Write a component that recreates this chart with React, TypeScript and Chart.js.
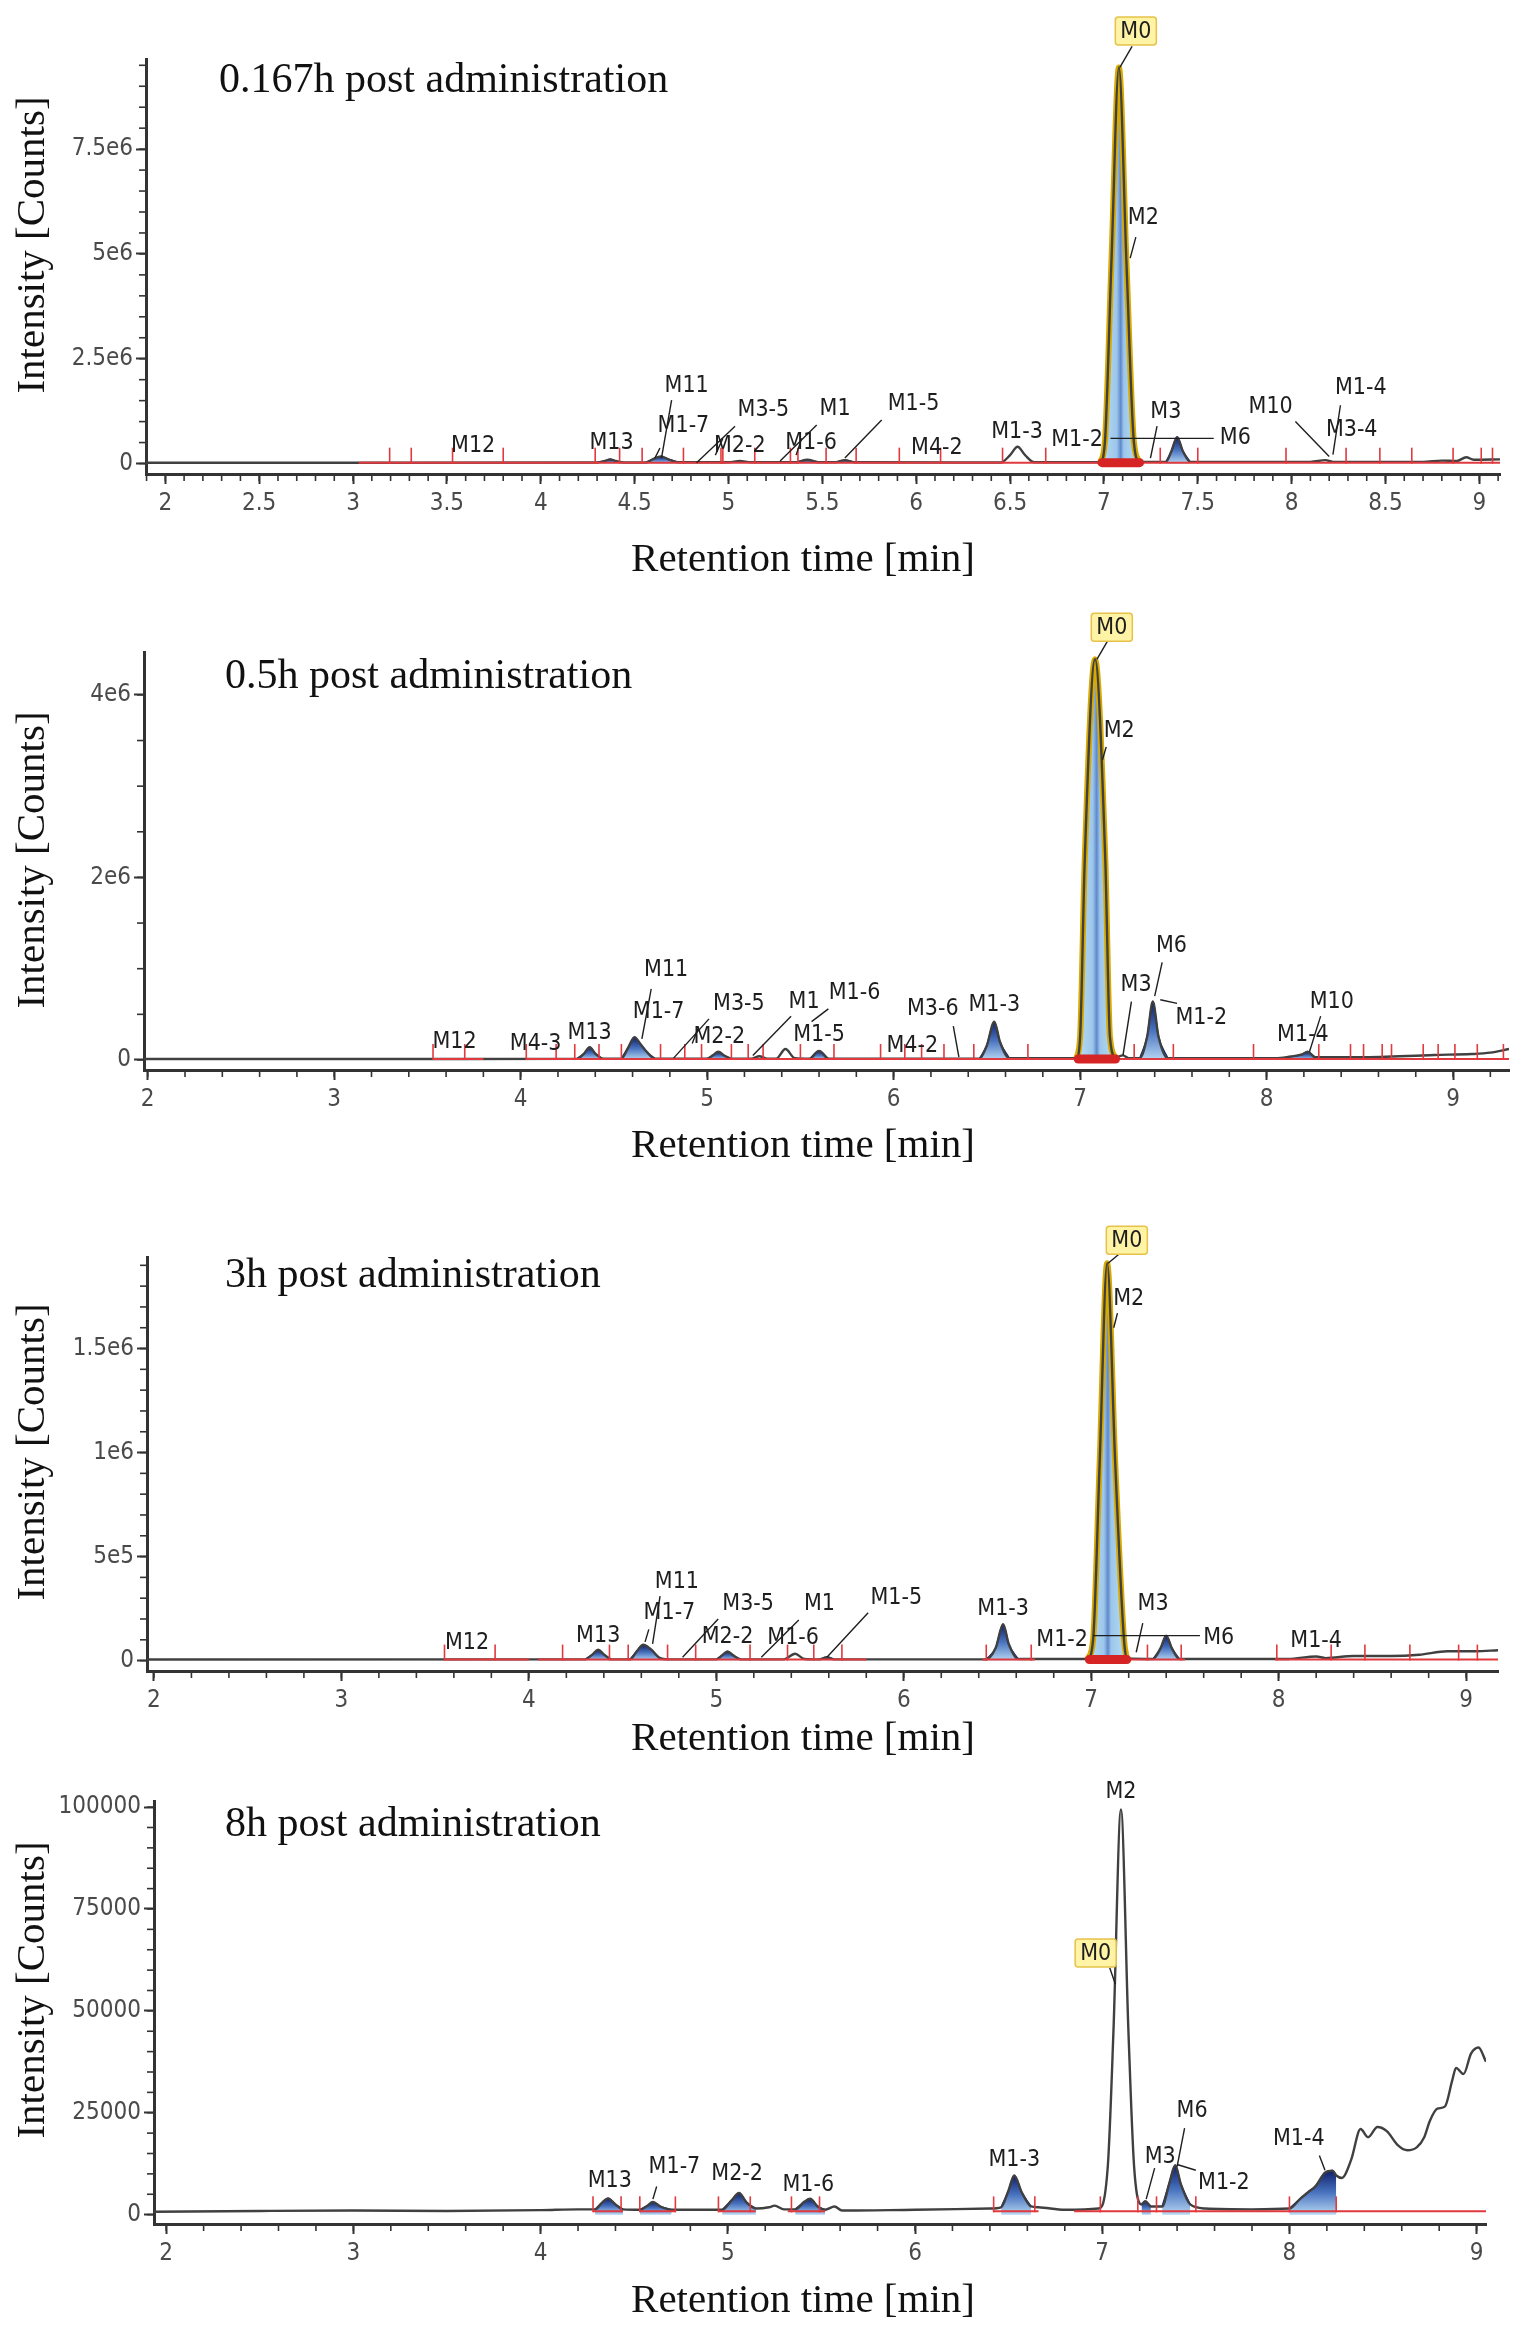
import React, { useEffect, useRef } from 'react';
import { Chart, registerables } from 'chart.js';

Chart.register(...registerables);

type Pt = [number, number];
type Seg = [number, number, number, number];
type Lbl = [string, number, number];

const SERIF = "'Liberation Serif', 'Times New Roman', serif";
const NARROW = "'Liberation Sans Narrow', 'DejaVu Sans Condensed', 'Liberation Sans', sans-serif";

// ---------- 0.167h ----------
const xTicks1 = [2, 2.5, 3, 3.5, 4, 4.5, 5, 5.5, 6, 6.5, 7, 7.5, 8, 8.5, 9];
const yTicks1 = [0, 2.5e6, 5e6, 7.5e6];
const yLabels1 = ['0', '2.5e6', '5e6', '7.5e6'];
const trace1: Pt[] = [
  [1.897, 2e4], [3.0, 2e4], [4.30, 2.5e4], [4.34, 6e4], [4.37, 1.0e5], [4.40, 6e4], [4.44, 2.5e4],
  [4.56, 2.5e4], [4.60, 1.1e5], [4.64, 1.7e5], [4.68, 1.0e5], [4.73, 3e4], [5.0, 3e4], [5.06, 6e4],
  [5.12, 3e4], [5.36, 3e4], [5.42, 9e4], [5.48, 3e4], [5.57, 3e4], [5.62, 8e4], [5.67, 3e4],
  [6.45, 2.5e4], [6.50, 2.0e5], [6.54, 4.0e5], [6.58, 2.0e5], [6.63, 3e4], [6.98, 3e4], [7.005, 5e5],
  [7.04, 4.8e6], [7.08, 9.45e6], [7.12, 4.8e6], [7.16, 5e5], [7.19, 4e4], [7.33, 4e4], [7.36, 3.0e5],
  [7.39, 6.3e5], [7.42, 3.0e5], [7.46, 4e4], [8.1, 4e4], [8.18, 8e4], [8.22, 4e4], [8.7, 4e4],
  [8.8, 7e4], [8.88, 6e4], [8.93, 1.5e5], [8.97, 9e4], [9.11, 1.0e5],
];
const peaks1: Pt[] = [[4.30, 4.44], [4.56, 4.73], [5.36, 5.48], [5.57, 5.67], [7.33, 7.46]];
const m0Win1: Pt = [6.98, 7.19];
const redBase1: Pt[] = [[3.03, 9.11]];
const redTicks1 = [3.195, 3.31, 3.53, 3.80, 4.29, 4.42, 4.54, 4.76, 4.96, 4.97, 5.14, 5.33, 5.37, 5.52, 5.68,
  5.91, 6.13, 6.46, 6.69, 7.30, 7.50, 7.97, 8.29, 8.47, 8.64, 8.86, 9.01, 9.07];
const labels1: Lbl[] = [
  ['M12', 3.64, 0.42e6], ['M13', 4.377, 0.485e6], ['M11', 4.777, 1.86e6], ['M1-7', 4.76, 0.89e6],
  ['M3-5', 5.186, 1.27e6], ['M2-2', 5.06, 0.41e6], ['M1', 5.568, 1.31e6], ['M1-6', 5.44, 0.485e6],
  ['M1-5', 5.986, 1.43e6], ['M4-2', 6.11, 0.37e6], ['M1-3', 6.537, 0.76e6], ['M1-2', 6.857, 0.56e6],
  ['M2', 7.21, 5.85e6], ['M3', 7.33, 1.23e6], ['M6', 7.70, 0.6e6], ['M10', 7.888, 1.35e6],
  ['M1-4', 8.368, 1.79e6], ['M3-4', 8.32, 0.8e6],
];
const leaders1: Seg[] = [
  [4.697, 1.51e6, 4.643, 0.13e6], [4.635, 0.37e6, 4.608, 0.13e6], [5.035, 0.89e6, 4.83, 0.02e6],
  [4.97, 0.6e6, 4.93, 0.2e6], [5.47, 0.92e6, 5.275, 0.06e6], [5.39, 0.6e6, 5.36, 0.2e6],
  [5.816, 1.04e6, 5.62, 0.13e6], [7.035, 0.6e6, 7.585, 0.6e6], [7.283, 0.89e6, 7.248, 0.13e6],
  [8.02, 1.0e6, 8.20, 0.17e6], [8.26, 1.39e6, 8.22, 0.21e6], [7.17, 5.4e6, 7.14, 4.9e6],
];
const box1: Lbl = ['M0', 7.17, 10.32e6];
const boxLeader1: Seg = [7.15, 9.95e6, 7.085, 9.45e6];

// ---------- 0.5h ----------
const xTicks2 = [2, 3, 4, 5, 6, 7, 8, 9];
const yTicks2 = [0, 2e6, 4e6];
const yLabels2 = ['0', '2e6', '4e6'];
const trace2: Pt[] = [
  [1.98, 1e4], [3.5, 1e4], [4.30, 1.2e4], [4.34, 7e4], [4.37, 1.4e5], [4.40, 7e4], [4.44, 1.5e4],
  [4.54, 1.5e4], [4.58, 1.5e5], [4.61, 2.5e5], [4.64, 1.8e5], [4.68, 8e4], [4.72, 1.5e4], [5.0, 1.5e4],
  [5.03, 5e4], [5.06, 9e4], [5.09, 5e4], [5.13, 1.5e4], [5.24, 1.5e4], [5.28, 4e4], [5.32, 1.5e4],
  [5.37, 1.5e4], [5.42, 1.2e5], [5.47, 2e4], [5.55, 1.5e4], [5.60, 1.0e5], [5.65, 1.5e4], [6.46, 1.5e4],
  [6.50, 1.6e5], [6.54, 4.2e5], [6.57, 2.0e5], [6.62, 2e4], [6.98, 2e4], [7.0, 2.5e5], [7.025, 2.2e6],
  [7.08, 4.39e6], [7.135, 2.2e6], [7.16, 2.5e5], [7.19, 3e4], [7.23, 5e4], [7.26, 2e4], [7.32, 2e4],
  [7.36, 2.6e5], [7.39, 6.4e5], [7.42, 2.6e5], [7.47, 2e4], [8.05, 2e4], [8.12, 3.5e4], [8.19, 6e4],
  [8.22, 9e4], [8.26, 3e4], [8.5, 3e4], [8.9, 5.5e4], [9.1, 6.5e4], [9.2, 8e4], [9.3, 1.2e5],
];
const peaks2: Pt[] = [[4.30, 4.44], [4.54, 4.72], [5.0, 5.13], [5.55, 5.65], [6.46, 6.62], [7.32, 7.47], [8.12, 8.26]];
const m0Win2: Pt = [6.98, 7.19];
const redBase2: Pt[] = [[3.53, 3.80], [4.03, 9.30]];
const redTicks2 = [3.53, 3.70, 4.03, 4.19, 4.29, 4.42, 4.54, 4.75, 4.88, 4.97, 5.13, 5.22, 5.30, 5.50, 5.68,
  5.93, 6.06, 6.15, 6.27, 6.43, 6.72, 7.29, 7.50, 7.93, 8.28, 8.45, 8.52, 8.62, 8.67, 8.84, 8.92, 9.01, 9.13, 9.27];
const labels2: Lbl[] = [
  ['M12', 3.645, 0.2e6], ['M4-3', 4.08, 0.18e6], ['M13', 4.37, 0.30e6], ['M11', 4.78, 0.98e6],
  ['M1-7', 4.74, 0.52e6], ['M2-2', 5.065, 0.25e6], ['M3-5', 5.17, 0.61e6], ['M1', 5.52, 0.64e6],
  ['M1-6', 5.79, 0.73e6], ['M1-5', 5.60, 0.27e6], ['M4-2', 6.10, 0.15e6], ['M3-6', 6.21, 0.56e6],
  ['M1-3', 6.54, 0.60e6], ['M2', 7.21, 3.6e6], ['M3', 7.30, 0.82e6], ['M6', 7.49, 1.25e6],
  ['M1-2', 7.65, 0.46e6], ['M10', 8.35, 0.64e6], ['M1-4', 8.195, 0.27e6],
];
const leaders2: Seg[] = [
  [4.70, 0.78e6, 4.65, 0.23e6], [5.01, 0.45e6, 4.82, 0.02e6], [4.95, 0.34e6, 4.92, 0.18e6],
  [5.45, 0.48e6, 5.245, 0.05e6], [5.65, 0.56e6, 5.56, 0.42e6], [6.32, 0.37e6, 6.35, 0.03e6],
  [7.14, 3.43e6, 7.12, 3.29e6], [7.275, 0.64e6, 7.23, 0.05e6], [7.44, 1.07e6, 7.40, 0.70e6],
  [7.52, 0.62e6, 7.43, 0.66e6], [8.29, 0.48e6, 8.23, 0.09e6],
];
const box2: Lbl = ['M0', 7.17, 4.74e6];
const boxLeader2: Seg = [7.15, 4.6e6, 7.09, 4.39e6];

// ---------- 3h ----------
const xTicks3 = [2, 3, 4, 5, 6, 7, 8, 9];
const yTicks3 = [0, 5e5, 1e6, 1.5e6];
const yLabels3 = ['0', '5e5', '1e6', '1.5e6'];
const trace3: Pt[] = [
  [1.963, 5e3], [4.30, 6e3], [4.34, 3e4], [4.37, 5.2e4], [4.40, 3e4], [4.44, 6e3], [4.54, 6e3],
  [4.58, 5e4], [4.61, 7.6e4], [4.65, 5.5e4], [4.70, 1.2e4], [4.74, 6e3], [5.0, 6e3], [5.03, 2.5e4],
  [5.06, 4.4e4], [5.09, 2.5e4], [5.13, 6e3], [5.36, 6e3], [5.42, 3.3e4], [5.47, 8e3], [5.55, 6e3],
  [5.59, 1.6e4], [5.63, 6e3], [6.44, 6e3], [6.49, 6e4], [6.53, 1.75e5], [6.56, 8e4], [6.61, 8e3],
  [6.98, 8e3], [7.01, 1e5], [7.045, 9.5e5], [7.085, 1.91e6], [7.128, 9.5e5], [7.175, 1e5], [7.19, 1e4],
  [7.33, 8e3], [7.37, 6e4], [7.40, 1.2e5], [7.43, 6e4], [7.47, 8e3], [8.05, 8e3], [8.2, 2e4],
  [8.25, 1.2e4], [8.4, 2.2e4], [8.6, 2.2e4], [8.75, 2.8e4], [8.9, 4.5e4], [9.05, 4.5e4], [9.17, 5e4],
];
const peaks3: Pt[] = [[4.30, 4.44], [4.54, 4.74], [5.0, 5.13], [5.55, 5.63], [6.44, 6.61], [7.33, 7.47]];
const m0Win3: Pt = [6.98, 7.19];
const redBase3: Pt[] = [[3.55, 4.0], [4.05, 5.8], [6.42, 6.7], [6.98, 7.5], [7.98, 9.17]];
const redTicks3 = [3.55, 3.82, 4.18, 4.43, 4.53, 4.74, 4.89, 5.18, 5.38, 5.52, 5.67, 6.44, 6.68, 7.30, 7.48,
  7.99, 8.28, 8.46, 8.70, 8.96, 9.06];
const labels3: Lbl[] = [
  ['M12', 3.67, 0.084e6], ['M13', 4.37, 0.12e6], ['M11', 4.79, 0.38e6], ['M1-7', 4.75, 0.23e6],
  ['M3-5', 5.17, 0.27e6], ['M2-2', 5.06, 0.115e6], ['M1', 5.55, 0.27e6], ['M1-6', 5.41, 0.11e6],
  ['M1-5', 5.96, 0.30e6], ['M1-3', 6.53, 0.25e6], ['M1-2', 6.845, 0.10e6], ['M2', 7.20, 1.74e6],
  ['M3', 7.33, 0.27e6], ['M6', 7.68, 0.11e6], ['M1-4', 8.20, 0.096e6],
];
const leaders3: Seg[] = [
  [4.70, 0.31e6, 4.66, 0.08e6], [4.64, 0.15e6, 4.62, 0.09e6], [5.01, 0.2e6, 4.82, 0.016e6],
  [5.44, 0.195e6, 5.24, 0.016e6], [5.81, 0.23e6, 5.59, 0.016e6], [7.01, 0.12e6, 7.58, 0.12e6],
  [7.275, 0.18e6, 7.24, 0.04e6], [7.14, 1.67e6, 7.12, 1.6e6],
];
const box3: Lbl = ['M0', 7.19, 2.02e6];
const boxLeader3: Seg = [7.17, 1.97e6, 7.09, 1.91e6];

// ---------- 8h ----------
const xTicks4 = [2, 3, 4, 5, 6, 7, 8, 9];
const yTicks4 = [0, 25000, 50000, 75000, 100000];
const yLabels4 = ['0', '25000', '50000', '75000', '100000'];
const trace4: Pt[] = [
  [1.935, 700], [2.5, 900], [3.0, 1000], [3.5, 900], [4.0, 1100], [4.2, 1300], [4.29, 1300], [4.33, 3000],
  [4.36, 4000], [4.40, 2500], [4.44, 1300], [4.53, 1200], [4.57, 2200], [4.60, 3100], [4.64, 2000],
  [4.70, 1200], [4.97, 1200], [5.02, 3500], [5.06, 5300], [5.10, 3000], [5.15, 1500], [5.22, 1800],
  [5.25, 2200], [5.30, 1300], [5.36, 1300], [5.41, 3200], [5.44, 3900], [5.48, 2000], [5.52, 1200],
  [5.57, 2000], [5.61, 1000], [6.0, 1200], [6.4, 1500], [6.46, 1800], [6.50, 6000], [6.53, 9600],
  [6.57, 5500], [6.62, 2000], [6.66, 1800], [6.8, 1200], [6.98, 1500], [7.03, 12000], [7.06, 45000],
  [7.10, 99400], [7.14, 45000], [7.17, 12000], [7.21, 2500], [7.23, 3300], [7.26, 2000], [7.32, 2000],
  [7.36, 8000], [7.39, 12100], [7.42, 7500], [7.47, 2500], [7.55, 1500], [7.8, 1300], [8.0, 1500],
  [8.06, 4000], [8.10, 5500], [8.14, 7000], [8.19, 10300], [8.23, 10800], [8.25, 9600], [8.28, 9000],
  [8.33, 13500], [8.38, 21000], [8.42, 19000], [8.47, 21500], [8.52, 20500], [8.58, 17000],
  [8.63, 15800], [8.68, 16500], [8.72, 19000], [8.75, 23000], [8.79, 26000], [8.83, 26500],
  [8.87, 33000], [8.89, 36000], [8.93, 34500], [8.97, 39500], [9.01, 41000], [9.05, 37500],
];
const peaks4: Pt[] = [[4.29, 4.44], [4.53, 4.70], [4.97, 5.15], [5.36, 5.52], [6.46, 6.62], [7.21, 7.26], [7.32, 7.47], [8.0, 8.25]];
const redBase4: Pt[] = [[4.28, 4.44], [4.53, 4.72], [4.95, 5.15], [5.32, 5.52], [6.42, 6.66], [6.85, 9.05]];
const redTicks4 = [4.28, 4.43, 4.53, 4.72, 4.95, 5.12, 5.34, 5.49, 6.42, 6.64, 6.99, 7.19, 7.29, 7.50, 8.0, 8.25];
const labels4: Lbl[] = [
  ['M13', 4.37, 8200], ['M1-7', 4.715, 11800], ['M2-2', 5.05, 9900], ['M1-6', 5.43, 7300],
  ['M1-3', 6.53, 13300], ['M2', 7.10, 103700], ['M3', 7.31, 14100], ['M6', 7.48, 25300],
  ['M1-2', 7.65, 7800], ['M1-4', 8.05, 18500],
];
const leaders4: Seg[] = [
  [4.62, 6900, 4.60, 3800], [7.28, 11400, 7.235, 3800], [7.44, 21200, 7.40, 11800],
  [7.50, 10900, 7.40, 12300], [8.16, 14500, 8.19, 10900],
];
const box4: Lbl = ['M0', 6.965, 64200];
const boxLeader4: Seg = [7.04, 60600, 7.07, 56600];

interface Panel {
  title: string;
  h: number; top: number; bottom: number; left: number; right: number;
  titleDx: number; titleDy: number; xTitleY: number; yTitleY: number;
  xMin: number; xMax: number; yMin: number; yMax: number;
  xMinor: number; yMinor: number; level: number;
  xTicks: number[]; yTicks: number[]; yLabels: string[];
  trace: Pt[]; peaks: Pt[]; m0: Pt | null; redBase: Pt[]; redTicks: number[];
  labels: Lbl[]; leaders: Seg[]; box: Lbl; boxLeader: Seg;
}

const panels: Panel[] = [
  {
    title: '0.167h post administration', h: 590, top: 59, bottom: 474, left: 146, right: 1500,
    titleDx: 73, titleDy: 22, xTitleY: 560, yTitleY: 245,
    xMin: 1.897, xMax: 9.11, yMin: -0.25e6, yMax: 9.65e6, xMinor: 0.1, yMinor: 0.5e6, level: 2e4,
    xTicks: xTicks1, yTicks: yTicks1, yLabels: yLabels1, trace: trace1, peaks: peaks1, m0: m0Win1,
    redBase: redBase1, redTicks: redTicks1, labels: labels1, leaders: leaders1, box: box1, boxLeader: boxLeader1,
  },
  {
    title: '0.5h post administration', h: 586, top: 62, bottom: 480, left: 144, right: 1509,
    titleDx: 81, titleDy: 25, xTitleY: 556, yTitleY: 270,
    xMin: 1.98, xMax: 9.30, yMin: -0.11e6, yMax: 4.47e6, xMinor: 0.2, yMinor: 0.5e6, level: 1e4,
    xTicks: xTicks2, yTicks: yTicks2, yLabels: yLabels2, trace: trace2, peaks: peaks2, m0: m0Win2,
    redBase: redBase2, redTicks: redTicks2, labels: labels2, leaders: leaders2, box: box2, boxLeader: boxLeader2,
  },
  {
    title: '3h post administration', h: 593, top: 81, bottom: 495, left: 147, right: 1498,
    titleDx: 78, titleDy: 19, xTitleY: 563, yTitleY: 276,
    xMin: 1.963, xMax: 9.17, yMin: -0.05e6, yMax: 1.94e6, xMinor: 0.2, yMinor: 1e5, level: 5e3,
    xTicks: xTicks3, yTicks: yTicks3, yLabels: yLabels3, trace: trace3, peaks: peaks3, m0: m0Win3,
    redBase: redBase3, redTicks: redTicks3, labels: labels3, leaders: leaders3, box: box3, boxLeader: boxLeader3,
  },
  {
    title: '8h post administration', h: 558, top: 32, bottom: 455, left: 154, right: 1486,
    titleDx: 71, titleDy: 24, xTitleY: 532, yTitleY: 221,
    xMin: 1.935, xMax: 9.05, yMin: -2300, yMax: 101500, xMinor: 0.2, yMinor: 5000, level: 800,
    xTicks: xTicks4, yTicks: yTicks4, yLabels: yLabels4, trace: trace4, peaks: peaks4, m0: null,
    redBase: redBase4, redTicks: redTicks4, labels: labels4, leaders: leaders4, box: box4, boxLeader: boxLeader4,
  },
];

const peakGradient = (c: any) => {
  const chart = c.chart;
  if (!chart.chartArea) return 'rgba(40,70,160,0.8)';
  const ds = chart.data.datasets[c.datasetIndex];
  const ys = ds.data.map((d: any) => d.y);
  const top = chart.scales.y.getPixelForValue(Math.max(...ys));
  const bottom = chart.scales.y.getPixelForValue(0);
  const g = chart.ctx.createLinearGradient(0, top, 0, bottom);
  g.addColorStop(0, '#0e1f6a');
  g.addColorStop(0.5, '#4a74c0');
  g.addColorStop(1, '#b6d6f2');
  return g;
};

function buildConfig(p: Panel): any {
  const pts = (arr: Pt[]) => arr.map(([x, y]) => ({ x, y }));
  const inWin = (w: Pt) => p.trace.filter(([t]) => t >= w[0] - 1e-6 && t <= w[1] + 1e-6);
  const datasets: any[] = [
    {
      data: pts(p.trace), borderColor: '#404040', borderWidth: 2.4, pointRadius: 0,
      cubicInterpolationMode: 'monotone', fill: false, order: 2,
    },
  ];
  p.peaks.forEach((w) => {
    datasets.push({
      data: pts(inWin(w)), borderColor: '#15296e', borderWidth: 1.5, backgroundColor: peakGradient,
      fill: 'origin', pointRadius: 0, cubicInterpolationMode: 'monotone', order: 3,
    });
  });
  if (p.m0) {
    const w = p.m0;
    datasets.push({
      data: pts(inWin(w)), borderColor: '#d8aa00', borderWidth: 6, fill: 'origin', pointRadius: 0,
      cubicInterpolationMode: 'monotone', order: 3,
      backgroundColor: (c: any) => {
        const chart = c.chart;
        if (!chart.chartArea) return '#a9d2ef';
        const x0 = chart.scales.x.getPixelForValue(w[0]);
        const x1 = chart.scales.x.getPixelForValue(w[1]);
        const g = chart.ctx.createLinearGradient(x0, 0, x1, 0);
        g.addColorStop(0, '#b9def5');
        g.addColorStop(0.42, '#9cc6ea');
        g.addColorStop(0.52, '#5f88cc');
        g.addColorStop(0.6, '#9cc6ea');
        g.addColorStop(1, '#b9def5');
        return g;
      },
    });
  }
  const base: any[] = [];
  p.redBase.forEach(([a, b]) => base.push({ x: a, y: p.level }, { x: b, y: p.level }, { x: b, y: null }));
  datasets.push({ data: base, borderColor: '#e0393e', borderWidth: 2, pointRadius: 0, fill: false, order: 1 });
  if (p.m0) {
    datasets.push({
      data: [{ x: p.m0[0] + 0.01, y: p.level }, { x: p.m0[1], y: p.level }], borderColor: '#d62424',
      borderWidth: 9, borderCapStyle: 'round', pointRadius: 0, fill: false, order: 0,
    });
  }

  const overlay = {
    id: 'overlay',
    afterDatasetsDraw(chart: any) {
      const ctx = chart.ctx;
      const xs = chart.scales.x;
      const ys = chart.scales.y;
      const { left, top, bottom } = chart.chartArea;
      const X = (t: number) => xs.getPixelForValue(t);
      const Y = (v: number) => ys.getPixelForValue(v);
      ctx.save();
      // integration marks
      ctx.strokeStyle = '#e0393e';
      ctx.lineWidth = 1.6;
      p.redTicks.forEach((t) => {
        const y0 = Y(p.level);
        ctx.beginPath();
        ctx.moveTo(X(t), y0 + 1);
        ctx.lineTo(X(t), y0 - 15);
        ctx.stroke();
      });
      // minor axis ticks
      ctx.strokeStyle = '#333';
      ctx.lineWidth = 1.6;
      for (let k = Math.ceil(p.xMin / p.xMinor); k * p.xMinor <= p.xMax + 1e-9; k++) {
        const px = X(k * p.xMinor);
        ctx.beginPath();
        ctx.moveTo(px, bottom + 1);
        ctx.lineTo(px, bottom + 7);
        ctx.stroke();
      }
      for (let k = Math.ceil(p.yMin / p.yMinor); k * p.yMinor <= p.yMax + 1e-9; k++) {
        const py = Y(k * p.yMinor);
        ctx.beginPath();
        ctx.moveTo(left - 1, py);
        ctx.lineTo(left - 7, py);
        ctx.stroke();
      }
      // leaders
      ctx.strokeStyle = '#1e1e1e';
      ctx.lineWidth = 1.4;
      [...p.leaders, p.boxLeader].forEach(([t1, v1, t2, v2]) => {
        ctx.beginPath();
        ctx.moveTo(X(t1), Y(v1));
        ctx.lineTo(X(t2), Y(v2));
        ctx.stroke();
      });
      // peak labels
      ctx.font = `23px ${NARROW}`;
      ctx.fillStyle = '#1e1e1e';
      ctx.textAlign = 'center';
      ctx.textBaseline = 'middle';
      p.labels.forEach(([s, t, v]) => ctx.fillText(s, X(t), Y(v)));
      // M0 box
      const [bs, bt, bv] = p.box;
      const bw = ctx.measureText(bs).width + 10;
      const bh = 28;
      const bx = X(bt) - bw / 2;
      const by = Y(bv) - bh / 2;
      ctx.fillStyle = '#fff3a6';
      ctx.strokeStyle = '#e6c24a';
      ctx.lineWidth = 1.5;
      ctx.beginPath();
      ctx.roundRect(bx, by, bw, bh, 3);
      ctx.fill();
      ctx.stroke();
      ctx.fillStyle = '#1e1e1e';
      ctx.fillText(bs, X(bt), Y(bv) + 1);
      // panel title and axis titles
      ctx.font = `42px ${SERIF}`;
      ctx.fillStyle = '#111';
      ctx.textAlign = 'left';
      ctx.fillText(p.title, left + p.titleDx, top + p.titleDy);
      ctx.font = `41px ${SERIF}`;
      ctx.textAlign = 'center';
      ctx.fillText('Retention time [min]', 803, p.xTitleY);
      ctx.translate(33, p.yTitleY);
      ctx.rotate(-Math.PI / 2);
      ctx.fillText('Intensity [Counts]', 0, 0);
      ctx.restore();
    },
  };

  return {
    type: 'line',
    data: { datasets },
    plugins: [overlay],
    options: {
      animation: false,
      responsive: false,
      devicePixelRatio: 1,
      layout: { padding: { left: 0, top: p.top, right: 1518 - p.right, bottom: 0 } },
      plugins: { legend: { display: false }, tooltip: { enabled: false } },
      scales: {
        x: {
          type: 'linear', min: p.xMin, max: p.xMax,
          afterBuildTicks: (s: any) => { s.ticks = p.xTicks.map((v) => ({ value: v })); },
          afterFit: (s: any) => { s.height = p.h - p.bottom; },
          grid: { drawOnChartArea: false, drawTicks: true, tickLength: 10, tickWidth: 2, tickColor: '#333' },
          border: { display: true, color: '#333', width: 3 },
          ticks: {
            color: '#4a4a4a', font: { family: NARROW, size: 24 }, padding: 5, maxRotation: 0, autoSkip: false,
            callback: (v: any) => String(v),
          },
        },
        y: {
          type: 'linear', min: p.yMin, max: p.yMax,
          afterBuildTicks: (s: any) => { s.ticks = p.yTicks.map((v) => ({ value: v })); },
          afterFit: (s: any) => { s.width = p.left; },
          grid: { drawOnChartArea: false, drawTicks: true, tickLength: 10, tickWidth: 2, tickColor: '#333' },
          border: { display: true, color: '#333', width: 3 },
          ticks: {
            color: '#4a4a4a', font: { family: NARROW, size: 24 }, padding: 3, autoSkip: false,
            callback: (_v: any, i: number) => p.yLabels[i],
          },
        },
      },
    },
  };
}

const PanelChart: React.FC<{ p: Panel }> = ({ p }) => {
  const canvasRef = useRef<HTMLCanvasElement>(null);

  useEffect(() => {
    if (!canvasRef.current) return;
    const chart = new Chart(canvasRef.current, buildConfig(p));
    return () => {
      chart.destroy();
    };
  }, [p]);

  return (
    <canvas
      ref={canvasRef}
      width={1518}
      height={p.h}
      style={{ display: 'block', width: 1518, height: p.h }}
    />
  );
};

const App: React.FC = () => {
  useEffect(() => {
    document.body.style.margin = '0';
    document.body.style.background = '#fff';
  }, []);

  return (
    <div style={{ width: 1518, background: '#fff' }}>
      {panels.map((p) => (
        <PanelChart key={p.title} p={p} />
      ))}
    </div>
  );
};

export default App;
